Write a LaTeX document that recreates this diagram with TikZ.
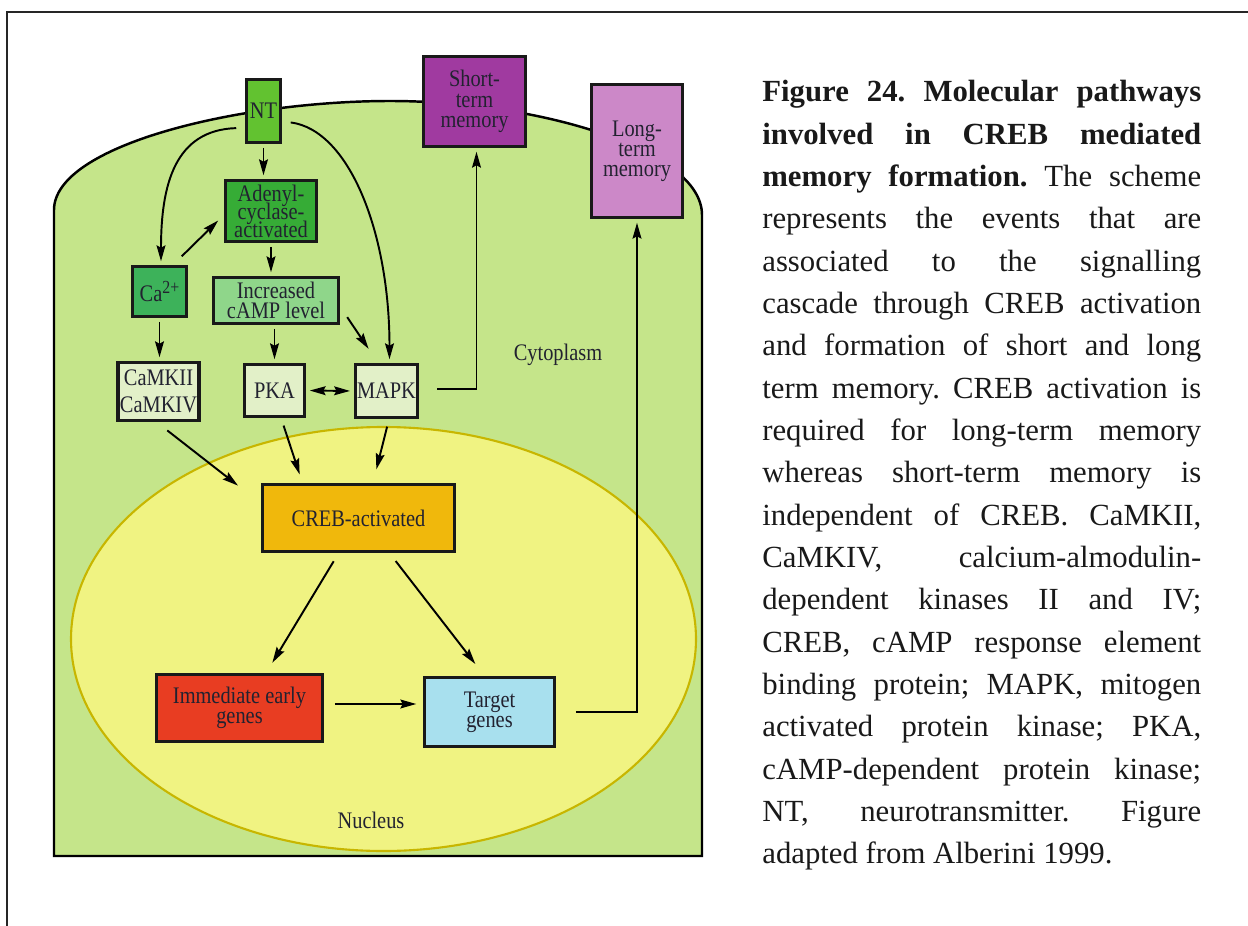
\documentclass[tikz,border=0pt]{standalone}
\usepackage{fontspec}
\setmainfont{Liberation Serif}
\newfontfamily\boxfont{Liberation Serif}[FakeStretch=0.86]
\usetikzlibrary{arrows.meta, calc}
\definecolor{cellgreen}{RGB}{197,229,138}
\definecolor{nucyellow}{RGB}{240,243,130}
\definecolor{nucborder}{RGB}{200,182,0}
\definecolor{ntgreen}{RGB}{98,194,48}
\definecolor{adgreen}{RGB}{54,172,54}
\definecolor{cagreen}{RGB}{61,178,90}
\definecolor{campgreen}{RGB}{143,214,138}
\definecolor{kinase}{RGB}{226,240,200}
\definecolor{creborange}{RGB}{240,184,12}
\definecolor{iegred}{RGB}{232,61,34}
\definecolor{targetblue}{RGB}{168,224,238}
\definecolor{stmpurple}{RGB}{160,58,160}
\definecolor{ltmpurple}{RGB}{204,136,200}
\definecolor{inktext}{RGB}{34,34,48}

\begin{document}
\begin{tikzpicture}[x=0.02cm, y=-0.02cm,
  box/.style={draw=black!90, line width=2pt, inner sep=1pt, align=center, text=inktext,
    font=\boxfont\fontsize{13.5}{11.5}\selectfont},
  arr/.style={line width=1.1pt, -{Stealth[length=9pt,width=5pt,inset=1.3pt]},
    shorten >=2pt, shorten <=2pt},
  lbl/.style={font=\boxfont\fontsize{13.5}{13.5}\selectfont, text=inktext}
]
\useasboundingbox (0,0) rectangle (1248,926);

% Page frame
\draw[line width=1.2pt, black!85] (1248,12) -- (7,12) -- (7,926);

% Cell and nucleus
\draw[line width=1.4pt, fill=cellgreen] (54,856) -- (54,210)
  .. controls (54,145) and (240,101) .. (390,101)
  .. controls (540,101) and (702,150) .. (702,215) -- (702,856) -- cycle;
\draw[line width=1.2pt, draw=nucborder, fill=nucyellow] (383.5,639) ellipse [x radius=312.5, y radius=212];
\node[lbl] (cytolabel) at (558,355) {Cytoplasm};
\node[lbl] (nuclabel) at (371,820) {Nucleus};

% Boxes
\node[box, fill=ntgreen, minimum width=0.68cm, minimum height=1.26cm] (nt) at (263.5,111) {NT};
\node[box, fill=stmpurple, minimum width=2.04cm, minimum height=1.80cm] (stm) at (474.5,101.5) {Short-\\term\\memory};
\node[box, fill=ltmpurple, minimum width=1.82cm, minimum height=2.66cm] (ltm) at (637,151) {Long-\\term\\memory};
\node[box, fill=adgreen, minimum width=1.82cm, minimum height=1.22cm] (adenyl) at (271,211) {Adenyl-\\[-3pt]cyclase-\\[-3pt]activated};
\node[box, fill=cagreen, minimum width=1.08cm, minimum height=1.00cm] (ca) at (159.5,291.5) {Ca\raisebox{0.33em}{\fontsize{10.5}{10}\selectfont 2+}};
\node[box, fill=campgreen, minimum width=2.50cm, minimum height=0.92cm] (incr) at (276,300.5) {Increased\\cAMP level};
\node[box, fill=kinase, minimum width=1.56cm, minimum height=1.16cm] (camk) at (158.5,391.5) {CaMKII\\[3.5pt]CaMKIV};
\node[box, fill=kinase, minimum width=1.20cm, minimum height=1.04cm] (pka) at (274.5,390.5) {PKA};
\node[box, fill=kinase, minimum width=1.16cm, minimum height=1.06cm] (mapk) at (386.5,391) {MAPK};
\node[box, fill=creborange, minimum width=3.84cm, minimum height=1.34cm] (creb) at (358.5,518) {CREB-activated};
\node[box, fill=iegred, minimum width=3.32cm, minimum height=1.34cm] (ieg) at (239.5,708) {Immediate early\\genes};
\node[box, fill=targetblue, minimum width=2.60cm, minimum height=1.38cm] (target) at (489.5,712) {Target\\genes};

% Connections
\draw[arr] (nt.south) -- (nt.south |- adenyl.north);
\draw[arr] ($(nt.west)+(-5,17)$) .. controls +(-65,2) and +(0,-80) .. ($(ca.north)+(1.5,0)$);
\draw[arr] ($(nt.east)+(5,11)$) .. controls +(62,8) and +(0,-130) .. ($(mapk.north)+(3,0)$);
\draw[arr] ($(ca.north east)+(-9,-6)$) -- ($(adenyl.west)+(-3,7)$);
\draw[arr] (adenyl.south) -- (adenyl.south |- incr.north);
\draw[arr] (ca.south) -- (ca.south |- camk.north);
\draw[arr] (pka.north |- incr.south) -- (pka.north);
\draw[arr] ($(incr.south east)+(5,-11)$) -- ($(mapk.north west)+(17,-11)$);
\draw[arr, {Stealth[length=9pt,width=5pt,inset=1.3pt]}-{Stealth[length=9pt,width=5pt,inset=1.3pt]}] (pka.east) -- (mapk.west);
\draw[arr] ($(mapk.east)+(14,-2)$) -| ($(stm.south)+(2,0)$);
\draw[arr] ($(camk.south)+(6,6)$) -- ($(creb.north west)+(-20,5)$);
\draw[arr] ($(pka.south)+(8,4)$) -- ($(creb.north west)+(40,-5)$);
\draw[arr] ($(mapk.south)+(1.5,4)$) -- ($(creb.north)+(17,-10)$);
\draw[arr] ($(creb.south)+(-23,5)$) -- ($(ieg.north)+(31,-7)$);
\draw[arr] ($(creb.south)+(35,5)$) -- ($(target.north)+(-12,-9)$);
\draw[arr] ($(ieg.east)+(7,-4)$) -- ($(target.west)+(-3,-8)$);
\draw[arr] ($(target.east)+(16,0)$) -| (ltm.south);

% Caption
\node[anchor=north west, inner sep=0pt, text width=8.78cm, align=justify, text=black!90,
  font=\fontsize{17.5}{24.1}\selectfont] (caption) at (762,80)
  {\tolerance=10000 \hyphenpenalty=10000 \frenchspacing
   \textbf{Figure 24. Molecular pathways}\linebreak
   \textbf{involved in CREB mediated}\linebreak
   \textbf{memory formation.} The scheme\linebreak
   represents the events that are\linebreak
   associated to the signalling\linebreak
   cascade through CREB activation\linebreak
   and formation of short and long\linebreak
   term memory. CREB activation is\linebreak
   required for long-term memory\linebreak
   whereas short-term memory is\linebreak
   independent of CREB. CaMKII,\linebreak
   CaMKIV, calcium-almodulin-\linebreak
   dependent kinases II and IV;\linebreak
   CREB, cAMP response element\linebreak
   binding protein; MAPK, mitogen\linebreak
   activated protein kinase; PKA,\linebreak
   cAMP-dependent protein kinase;\linebreak
   NT, neurotransmitter. Figure\linebreak
   adapted from Alberini 1999.};
\end{tikzpicture}
\end{document}
